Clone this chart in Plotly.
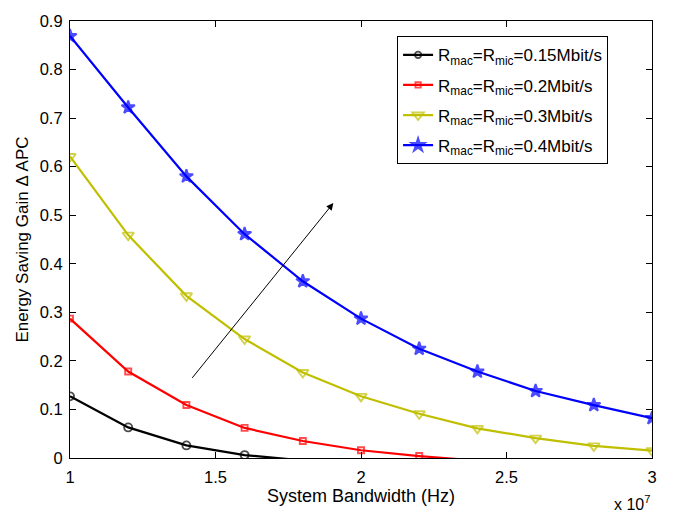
import plotly.graph_objects as go

# System bandwidth in units of 10^7 Hz
bandwidth = [1.0, 1.2, 1.4, 1.6, 1.8, 2.0, 2.2, 2.4, 2.6, 2.8, 3.0]

# Energy saving gain (Delta APC) per rate setting
gain_015 = [0.127, 0.063, 0.026, 0.006, -0.005]
gain_02 = [0.287, 0.178, 0.109, 0.062, 0.035, 0.016, 0.004, -0.0055]
gain_03 = [0.621, 0.459, 0.334, 0.245, 0.176, 0.127, 0.091, 0.061, 0.041, 0.025, 0.015]
gain_04 = [0.869, 0.722, 0.580, 0.461, 0.364, 0.287, 0.225, 0.178, 0.138, 0.109, 0.082]

rates = ["0.15", "0.2", "0.3", "0.4"]
series = [gain_015, gain_02, gain_03, gain_04]
colors = ["#000000", "#ff0000", "#bfbf00", "#0000ff"]
symbols = ["circle-open", "square-open", "triangle-down-open", "star"]
sizes = [8, 6, 10, 10]

yticks = [0, 0.1, 0.2, 0.3, 0.4, 0.5, 0.6, 0.7, 0.8, 0.9]
xticks = [1, 1.5, 2, 2.5, 3]

FONT = "Liberation Sans, Arial, sans-serif"

fig = go.Figure()
for i, (rate, vals, col, sym, sz) in enumerate(zip(rates, series, colors, symbols, sizes)):
    xs = bandwidth[:len(vals)]
    # points below zero fall outside the axes: keep the line, drop the marker
    msize = [sz if v >= 0 else 0 for v in vals]
    fig.add_trace(go.Scatter(
        x=xs, y=vals, mode="lines+markers",
        name=f"R<sub>mac</sub>=R<sub>mic</sub>={rate}Mbit/s",
        legendgroup=f"g{i}",
        line=dict(color=col, width=2.2),
        marker=dict(symbol=sym, size=msize, color=col,
                    line=dict(color=col, width=1.9)),
    ))

fig.add_annotation(
    x=1.905, y=0.525, ax=1.416, ay=0.162,
    xref="x", yref="y", axref="x", ayref="y",
    showarrow=True, arrowhead=2, arrowsize=1.4, arrowwidth=1, arrowcolor="black",
    text="",
)

fig.add_annotation(
    x=1.0, y=-0.102, xref="paper", yref="paper",
    text="x 10<sup>7</sup>", showarrow=False,
    font=dict(family=FONT, size=16, color="black"),
    xanchor="right", yanchor="middle",
)

axis_common = dict(
    showline=True, linecolor="black", linewidth=1.2, mirror="allticks",
    ticks="inside", ticklen=6, tickcolor="black", tickwidth=1,
    showgrid=False, zeroline=False,
    tickfont=dict(family=FONT, size=16.5, color="black"),
)

fig.update_layout(
    width=694, height=512,
    margin=dict(l=70, r=42, t=13, b=54),
    paper_bgcolor="white", plot_bgcolor="white",
    font=dict(family=FONT, color="black"),
    xaxis=dict(range=[1, 3], tickvals=xticks, ticktext=["1", "1.5", "2", "2.5", "3"],
               ticklabelstandoff=4,
               title=dict(text="System Bandwidth (Hz)", font=dict(size=18), standoff=0),
               **axis_common),
    yaxis=dict(range=[0, 0.9], tickvals=yticks,
               ticktext=["0", "0.1", "0.2", "0.3", "0.4", "0.5", "0.6", "0.7", "0.8", "0.9"],
               ticklabelstandoff=3,
               title=dict(text="Energy Saving Gain \u0394 APC", font=dict(size=17), standoff=6),
               **axis_common),
    legend=dict(
        x=0.562, y=0.965, xanchor="left", yanchor="top",
        bordercolor="black", borderwidth=1, bgcolor="white",
        font=dict(family=FONT, size=17, color="black"),
        tracegroupgap=5,
    ),
    showlegend=True,
)

fig.write_html("out.html")
